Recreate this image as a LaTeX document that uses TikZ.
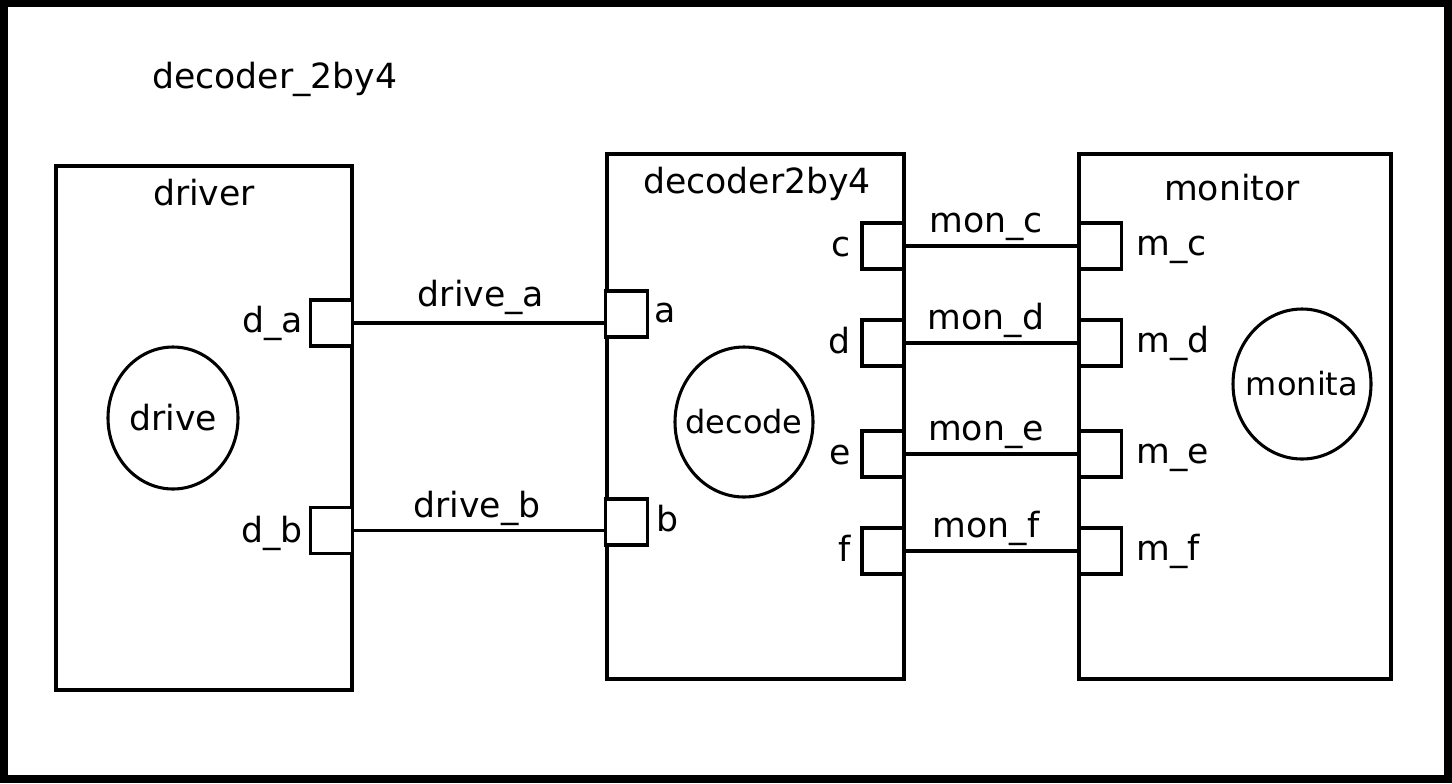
\documentclass[tikz,border=0pt]{standalone}
\usepackage{fontspec}
\setmainfont{DejaVu Sans}
\usetikzlibrary{positioning,shapes.geometric}
\tikzset{
  block/.style = {draw, line width=2.3pt},
  port/.style  = {rectangle, draw, line width=2.3pt, fill=white, minimum width=31.5pt,
                  minimum height=34.5pt, inner sep=0pt},
  proc/.style  = {ellipse, draw, line width=2.3pt, inner sep=0pt,
                  label={[font=\fontsize{24}{28}\selectfont, inner sep=0pt]center:#1}},
  wire/.style  = {line width=2.3pt},
  lbl/.style   = {font=\fontsize{26}{30}\selectfont, inner sep=0pt},
}

\begin{document}
\begin{tikzpicture}[x=0.75pt, y=-0.75pt]
  % frame
  \fill[black] (0,0) rectangle (1452,783);
  \fill[white] (8,7) rectangle (1444,775);
  \useasboundingbox (0,0) rectangle (1452,783);

  \node[lbl, anchor=base west] (title) at (152,88) {decoder\_2by4};

  % blocks
  \draw[block] (56,166) rectangle (352,690);
  \draw[block] (607,154) rectangle (904,679);
  \draw[block] (1079,154) rectangle (1391,679);
  \node[lbl, anchor=base] (drvname) at (204,205) {driver};
  \node[lbl, anchor=base] (decname) at (757,193) {decoder2by4};
  \node[lbl, anchor=base] (monname) at (1232,200) {monitor};

  \node[proc={\fontsize{26}{30}\selectfont drive}, minimum width=97.5pt, minimum height=106.5pt] (drive) at (173,418) {};
  \node[proc=decode, minimum width=103.5pt, minimum height=112.5pt] (decode) at (744,422) {};
  \node[proc=monita, minimum width=103.5pt, minimum height=112.5pt] (monita) at (1302,384) {};

  % driver -> decoder
  \node[port] (da) at (331.5,323) {};
  \node[port] (db) at (331.5,530.5) {};
  \node[port] (a) at (626.5,314) {};
  \node[port] (b) at (626.5,522) {};
  \node[lbl, anchor=base east] (lda) at (303,332) {d\_a};
  \node[lbl, anchor=base east] (ldb) at (303,542) {d\_b};
  \node[lbl, anchor=base west] (la) at (654,322) {a};
  \node[lbl, anchor=base west] (lb) at (656,531) {b};
  \draw[wire] (da.east) -- (da.east -| a.west);
  \draw[wire] (db.east) -- (db.east -| b.west);
  \node[lbl, anchor=base] (wa) at (481,306) {drive\_a};
  \node[lbl, anchor=base] (wb) at (477,517) {drive\_b};

  % decoder -> monitor
  \foreach \p/\y in {c/246, d/343, e/454, f/551} {
    \node[port] (\p) at (883,\y) {};
    \node[port] (m\p) at (1100.5,\y) {};
    \node[lbl, anchor=base east] (l\p) at (851,\y+10) {\p};
    \node[lbl, anchor=base west] (lm\p) at (1136,\y+9) {m\_\p};
    \draw[wire] (\p.east) -- (m\p.west);
    \node[lbl, anchor=base] (w\p) at (986,\y-14) {mon\_\p};
  }
\end{tikzpicture}
\end{document}
